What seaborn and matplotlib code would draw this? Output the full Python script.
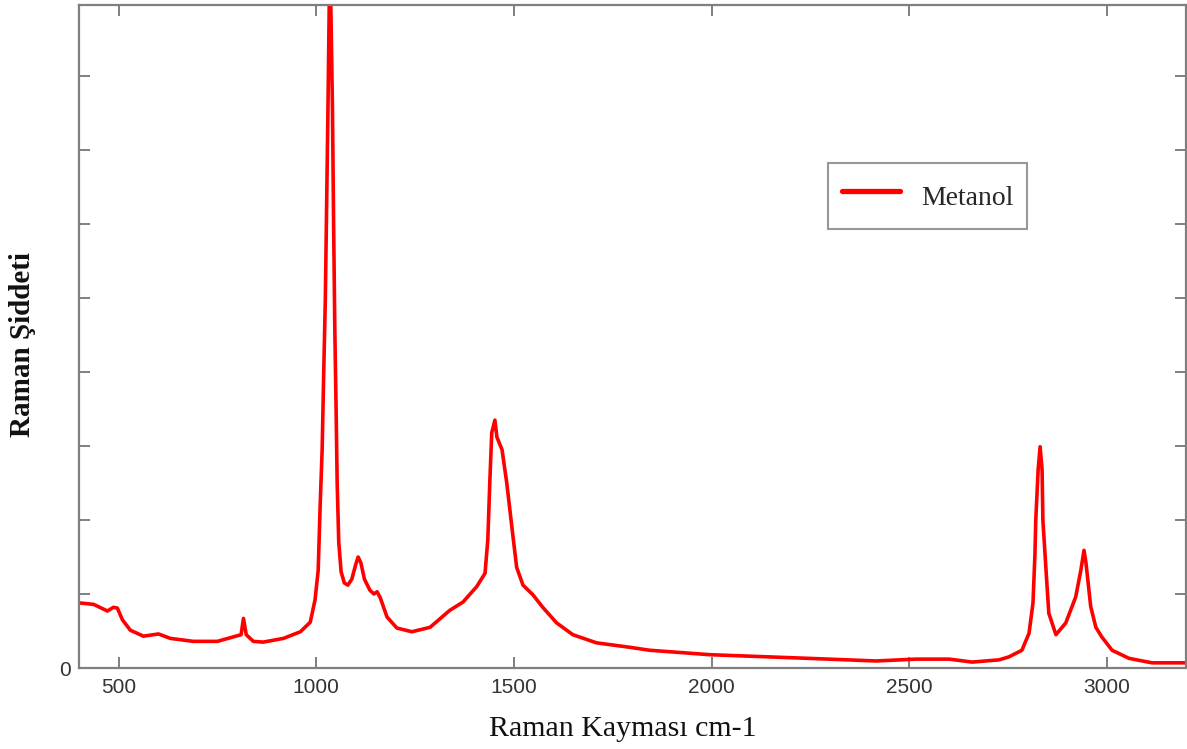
import matplotlib
matplotlib.use("Agg")
import matplotlib.pyplot as plt
import seaborn as sns
import pandas as pd

raman_shift = [400, 437, 472, 487, 497, 510, 530, 563, 601, 631, 689, 750, 790, 810, 816, 823,
               841, 866, 917, 960, 985, 997, 1005, 1010, 1015, 1019, 1023, 1027, 1030, 1033,
               1035, 1038, 1041, 1044, 1047, 1050, 1053, 1057, 1063, 1071, 1080, 1090, 1100,
               1106, 1113, 1122, 1136, 1146, 1154, 1162, 1179, 1204, 1242, 1288, 1338, 1371,
               1406, 1427, 1434, 1439, 1444, 1452, 1457, 1470, 1482, 1495, 1507, 1523, 1548,
               1573, 1608, 1649, 1709, 1793, 1843, 1995, 2247, 2416, 2517, 2601, 2659, 2727,
               2752, 2785, 2803, 2813, 2818, 2820, 2826, 2831, 2836, 2838, 2846, 2853, 2871,
               2896, 2921, 2934, 2942, 2947, 2959, 2972, 2987, 3013, 3056, 3114, 3200]
intensity = [0.88, 0.86, 0.77, 0.82, 0.81, 0.65, 0.51, 0.43, 0.46, 0.40, 0.36, 0.36, 0.42, 0.45, 0.67, 0.45,
             0.36, 0.35, 0.40, 0.49, 0.62, 0.92, 1.32, 2.2, 2.95, 4.0, 4.97, 6.5, 7.68, 9.0,
             9.6, 8.6, 7.6, 6.0, 4.6, 3.6, 2.5, 1.7, 1.3, 1.15, 1.12, 1.2, 1.4,
             1.5, 1.42, 1.2, 1.05, 1.0, 1.03, 0.95, 0.69, 0.54, 0.49, 0.55, 0.78, 0.89,
             1.1, 1.28, 1.73, 2.5, 3.18, 3.35, 3.12, 2.95, 2.5, 1.9, 1.36, 1.12, 0.99,
             0.82, 0.61, 0.45, 0.34, 0.28, 0.24, 0.18, 0.13, 0.095, 0.12, 0.12, 0.08, 0.11,
             0.15, 0.24, 0.47, 0.88, 1.55, 2.0, 2.68, 2.99, 2.68, 2.0, 1.32, 0.74, 0.45,
             0.61, 0.96, 1.32, 1.59, 1.42, 0.83, 0.55, 0.42, 0.24, 0.13, 0.07, 0.07]
series_name = "Metanol"
x_ticks = [500, 1000, 1500, 2000, 2500, 3000]
y_ticks = [0, 1, 2, 3, 4, 5, 6, 7, 8]
y_tick_labels = ["0", "", "", "", "", "", "", "", ""]

df = pd.DataFrame({"shift": raman_shift, "intensity": intensity, "name": series_name})

sns.set_style("white")
fig = plt.figure(figsize=(11.87, 7.49), dpi=100)
ax = fig.add_axes([79/1187, 81/749, 1107/1187, 663/749])

sns.lineplot(data=df, x="shift", y="intensity", hue="name", palette=["#ff0000"],
             linewidth=2.6, ax=ax, sort=False)
for ln in ax.get_lines():
    ln.set_solid_joinstyle("round")

ax.set_xlim(400, 3200)
ax.set_ylim(0, 8.96)
ax.set_xticks(x_ticks)
ax.set_xticklabels([str(t) for t in x_ticks])
ax.set_yticks(y_ticks)
ax.set_yticklabels(y_tick_labels)

spine_col = "#7f7f7f"
for s in ax.spines.values():
    s.set_visible(True)
    s.set_color(spine_col)
    s.set_linewidth(1.6)
ax.tick_params(axis="both", direction="in", length=8, width=1.4, color=spine_col,
               labelsize=15, labelcolor="#333333", top=True, right=True,
               bottom=True, left=True, labelfontfamily="Liberation Sans")
ax.tick_params(axis="x", pad=7)
ax.tick_params(axis="y", pad=6)

ax.set_xlabel("Raman Kayması cm-1", fontfamily="Liberation Serif", fontsize=21.5,
              color="#111111", va="center")
ax.xaxis.set_label_coords((623-79)/1107, (668-729)/663)
ax.set_ylabel("Raman Şiddeti", fontfamily="Liberation Serif", fontsize=21,
              fontweight="bold", color="#111111", va="center")
ax.yaxis.set_label_coords((23-79)/1107, (668-345)/663)

leg = ax.legend(loc="upper left", bbox_to_anchor=((828-79)/1107, (668-163)/663),
                prop={"family": "Liberation Serif", "size": 20},
                frameon=True, fancybox=False, handlelength=2.1, handletextpad=0.75,
                handleheight=1.75, borderpad=0.5, borderaxespad=0)
leg.get_frame().set_edgecolor("#7f7f7f")
leg.get_frame().set_linewidth(1.5)
for line in leg.get_lines():
    line.set_linewidth(3.8)

fig.savefig("out.png", dpi=100)
